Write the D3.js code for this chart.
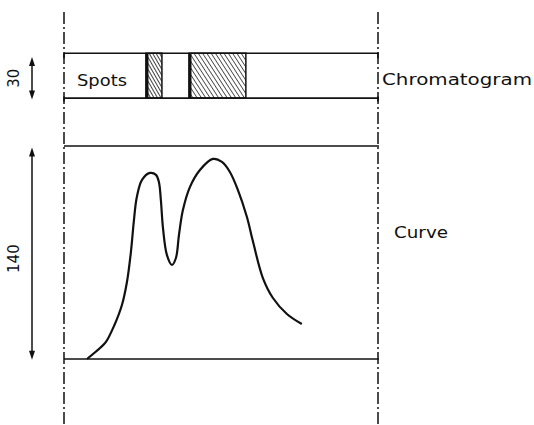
<!DOCTYPE html>
<html>
<head>
<meta charset="utf-8">
<style>
  body { margin: 0; background: #fff; }
  svg { display: block; }
  text { font-family: "DejaVu Sans", sans-serif; fill: #111; }
</style>
<script src="https://d3js.org/d3.v7.min.js"></script>
</head>
<body>
<script>
// all values in mm of the drawing
var curveX = [15.1, 23.7, 27.6, 32.9, 38.1, 41.4, 44.0, 46.0, 47.9, 51.3, 56.5, 60.5, 62.4, 63.7, 65.1, 67.7, 71.0, 73.6, 75.6, 78.2, 82.8, 89.4, 97.9, 103.9, 109.1, 114.4, 120.3, 124.2, 130.8, 137.4, 146.6, 156.4];
var curveY = [0, 7.2, 11.2, 21.7, 35.5, 50.6, 70.3, 91.3, 106.5, 117.7, 122.3, 121.0, 116.4, 104.5, 86.1, 68.3, 61.8, 66.4, 81.5, 97.9, 113.0, 124.2, 131.5, 129.5, 122.9, 111.0, 93.3, 77.5, 53.2, 40.1, 29.6, 23.0];
var spotStart = [53.9, 82.2];
var spotEnd = [64.4, 119.6];
var stripBottom = 171.5, stripTop = 201, curveTop = 140, plateWidth = 206.5;
var dims = ["30", "140"];

var width = 534, height = 425;
var svg = d3.select("body").append("svg").attr("width", width).attr("height", height);

var x = d3.scaleLinear().domain([0, plateWidth]).range([64, 378]);
var y = d3.scaleLinear().domain([0, curveTop]).range([359, 146]);

// hatch patterns
var defs = svg.append("defs");
defs.append("pattern").attr("id", "hatch").attr("patternUnits", "userSpaceOnUse")
  .attr("width", 3).attr("height", 3).attr("patternTransform", "rotate(-30)")
  .append("line").attr("x1", 0).attr("y1", 0).attr("x2", 0).attr("y2", 3)
  .attr("stroke", "#111").attr("stroke-width", 1.6);
defs.append("pattern").attr("id", "hatch2").attr("patternUnits", "userSpaceOnUse")
  .attr("width", 3.6).attr("height", 3.6).attr("patternTransform", "rotate(-33)")
  .append("line").attr("x1", 0).attr("y1", 0).attr("x2", 0).attr("y2", 3.6)
  .attr("stroke", "#111").attr("stroke-width", 1.4);

// dash-dot guide lines
[0, plateWidth].forEach(function(d) {
  svg.append("line").attr("x1", x(d)).attr("x2", x(d)).attr("y1", 12).attr("y2", 425)
    .attr("stroke", "#111").attr("stroke-width", 1.5).attr("stroke-dasharray", "12,3,2,3");
});

// spots
spotStart.forEach(function(s, i) {
  svg.append("rect").attr("x", x(s)).attr("y", y(stripTop))
    .attr("width", x(spotEnd[i]) - x(s)).attr("height", y(stripBottom) - y(stripTop))
    .attr("fill", i == 0 ? "url(#hatch)" : "url(#hatch2)")
    .attr("stroke", "#111").attr("stroke-width", 1.5);
  svg.append("line").attr("x1", x(s) + 1).attr("x2", x(s) + 1)
    .attr("y1", y(stripTop)).attr("y2", y(stripBottom))
    .attr("stroke", "#111").attr("stroke-width", 3);
});

// horizontal lines
[stripTop, stripBottom, curveTop, 0].forEach(function(d) {
  svg.append("line").attr("x1", x(0)).attr("x2", x(plateWidth) + 1)
    .attr("y1", y(d)).attr("y2", y(d)).attr("stroke", "#111").attr("stroke-width", 1.6);
});
// short end ticks
[[stripTop, stripBottom], [stripBottom + 1, curveTop]].forEach(function(p) {
  [0, plateWidth].forEach(function(d) {
    svg.append("line").attr("x1", x(d)).attr("x2", x(d))
      .attr("y1", y(p[0])).attr("y2", y(p[0]) + 5).attr("stroke", "#111").attr("stroke-width", 1.6);
  });
});

// curve
var pts = curveX.map(function(d, i) { return [d, curveY[i]]; });
svg.append("path")
  .attr("d", d3.line().x(function(d) { return x(d[0]); }).y(function(d) { return y(d[1]); })
    .curve(d3.curveCatmullRom.alpha(0.5))(pts))
  .attr("fill", "none").attr("stroke", "#111").attr("stroke-width", 2.2);

// dimension arrows
var dimRanges = [[stripTop - 2.5, stripBottom - 1], [curveTop - 1, -0.5]];
dimRanges.forEach(function(r, i) {
  var y1 = y(r[0]), y2 = y(r[1]);
  svg.append("line").attr("x1", 32).attr("x2", 32).attr("y1", y1 + 3).attr("y2", y2 - 3)
    .attr("stroke", "#111").attr("stroke-width", 1.5);
  svg.append("path").attr("d", "M32," + y1 + "L29," + (y1 + 9) + "L35," + (y1 + 9) + "Z").attr("fill", "#111");
  svg.append("path").attr("d", "M32," + y2 + "L29," + (y2 - 9) + "L35," + (y2 - 9) + "Z").attr("fill", "#111");
  var cy = (y1 + y2) / 2 + (i == 1 ? 5 : 0);
  svg.append("text").attr("transform", "translate(19," + cy + ") rotate(-90)")
    .attr("text-anchor", "middle").style("font-size", "15px").text(dims[i]);
});

// labels
svg.append("text").attr("x", 77).attr("y", 86).style("font-size", "15px")
  .attr("textLength", 50).attr("lengthAdjust", "spacingAndGlyphs").text("Spots");
svg.append("text").attr("x", 382).attr("y", 85).style("font-size", "16px")
  .attr("textLength", 150).attr("lengthAdjust", "spacingAndGlyphs").text("Chromatogram");
svg.append("text").attr("x", 394).attr("y", 238).style("font-size", "15px")
  .attr("textLength", 54).attr("lengthAdjust", "spacingAndGlyphs").text("Curve");
</script>
</body>
</html>
